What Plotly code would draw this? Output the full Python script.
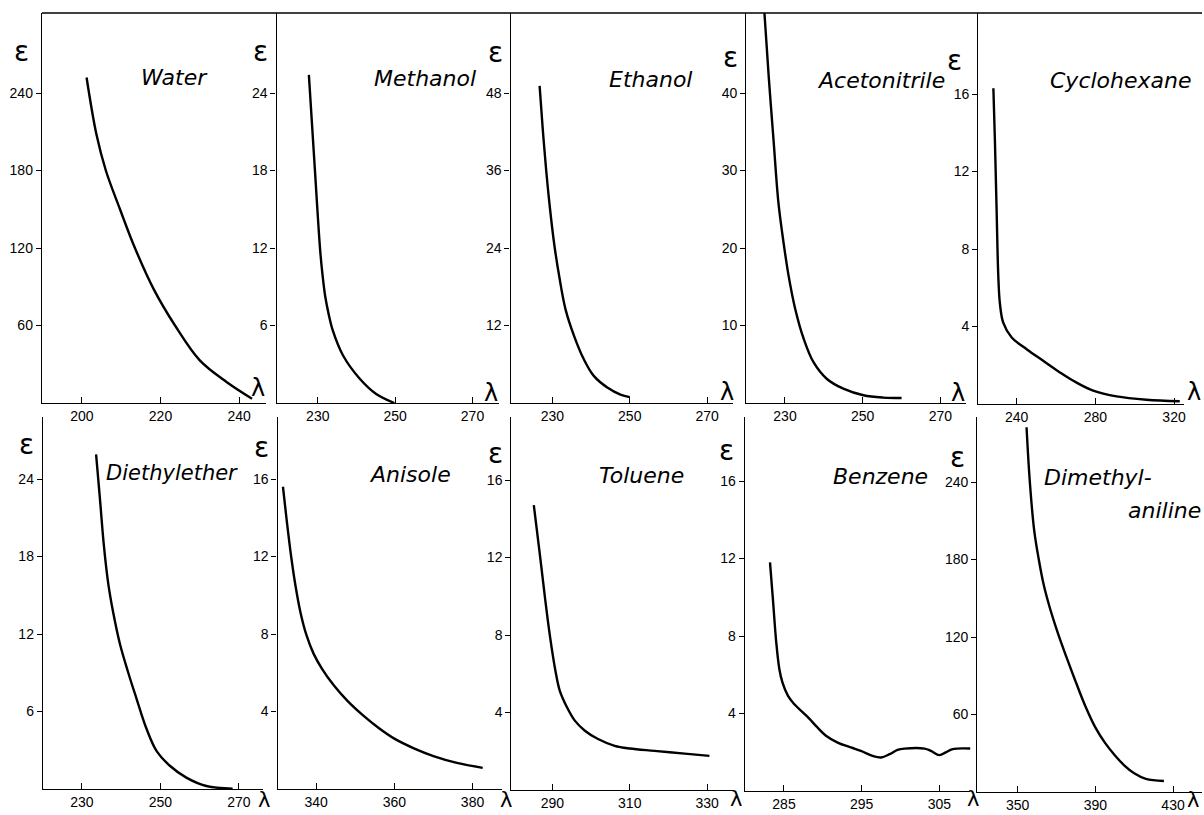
import plotly.graph_objects as go

# ---------------- data ----------------
solvent_labels = ["Water", "Methanol", "Ethanol", "Acetonitrile", "Cyclohexane",
                  "Diethylether", "Anisole", "Toluene", "Benzene", "Dimethyl-", "aniline"]

water_wl = [201.2, 203.7, 206.1, 209.7, 213.5, 218.3, 223.7, 230.0, 236.8, 243.3]
water_eps = [252, 208, 180, 150, 120, 88, 60, 33, 16.3, 3.3]

methanol_wl = [227.7, 229.1, 230.6, 231.2, 231.9, 232.8, 233.9, 236.5, 240.8, 245.1, 249.8]
methanol_eps = [25.4, 18.8, 11.9, 10.0, 8.3, 6.9, 5.6, 3.7, 1.9, 0.7, 0.0]

ethanol_wl = [226.7, 227.5, 228.4, 229.4, 230.5, 231.8, 233.4, 235.6, 238.1, 240.7, 244.2, 247.6, 250.0]
ethanol_eps = [49.1, 42.5, 36.0, 30.0, 24.5, 19.5, 14.5, 10.4, 6.8, 4.2, 2.4, 1.3, 0.9]

acn_wl = [224.7, 225.8, 227.1, 228.3, 229.6, 230.9, 232.6, 234.8, 237.3, 240.8, 245.0, 250.2, 255.3, 260.0]
acn_eps = [50.4, 42.2, 33.6, 25.9, 20.8, 16.5, 12.2, 8.3, 5.3, 3.1, 1.85, 1.0, 0.7, 0.64]

cyc_wl = [228.2, 229.0, 229.8, 230.7, 231.5, 233.2, 237.5, 245.1, 253.5, 262.0, 268.8, 278.9, 290.8, 306.0, 322.9]
cyc_eps = [16.3, 13.5, 10.2, 6.6, 5.2, 4.2, 3.43, 2.83, 2.23, 1.63, 1.20, 0.69, 0.39, 0.22, 0.14]

ether_wl = [233.6, 234.6, 235.6, 236.7, 238.0, 239.7, 241.8, 243.9, 246.4, 249.0, 252.4, 256.6, 261.7, 268.4]
ether_eps = [25.9, 22.4, 18.8, 15.9, 13.6, 11.2, 9.0, 7.0, 4.7, 2.95, 1.8, 0.88, 0.23, 0.03]

anisole_wl = [331.5, 332.5, 333.6, 334.7, 336.0, 337.5, 339.3, 341.5, 344.5, 348.0, 352.0, 356.0,
              360.0, 365.0, 370.0, 376.0, 382.6]
anisole_eps = [15.6, 13.8, 12.0, 10.5, 9.1, 7.95, 7.0, 6.2, 5.35, 4.55, 3.8, 3.15,
               2.6, 2.1, 1.7, 1.35, 1.09]

toluene_wl = [285.2, 286.8, 288.1, 289.4, 290.7, 291.9, 293.7, 295.8, 298.4, 301.8, 306.1,
              310.0, 316.4, 324.2, 330.6]
toluene_eps = [14.7, 12.1, 9.9, 7.9, 6.25, 5.13, 4.30, 3.58, 3.06, 2.63, 2.28,
               2.14, 2.02, 1.88, 1.76]

benzene_wl = [283.2, 283.6, 284.0, 284.4, 284.8, 285.5, 286.3, 288.1, 289.3, 290.4, 291.9, 293.6,
              294.9, 296.4, 297.5, 298.6, 299.6, 300.5, 303.1, 303.9, 305.0, 305.8, 306.7, 309.0]
benzene_eps = [11.8, 9.76, 7.69, 6.30, 5.61, 4.92, 4.49, 3.80, 3.28, 2.85, 2.50, 2.25,
               2.07, 1.81, 1.73, 1.90, 2.12, 2.19, 2.19, 2.07, 1.85, 1.99, 2.16, 2.19]

dma_wl = [354.6, 356.3, 358.5, 360.9, 363.5, 366.5, 370.5, 375.0, 380.0, 385.0, 390.0, 395.0,
          400.0, 405.0, 410.0, 416.0, 425.3]
dma_eps = [282.4, 240, 203, 180, 160, 143, 124, 105, 85, 66, 50, 38,
           28.5, 20.5, 14.5, 10.2, 8.5]

x_tickvals = [[200, 220, 240], [230, 250, 270], [230, 250, 270], [230, 250, 270], [240, 280, 320],
              [230, 250, 270], [340, 360, 380], [290, 310, 330], [285, 295, 305], [350, 390, 430]]
y_tickvals = [[60, 120, 180, 240], [6, 12, 18, 24], [12, 24, 36, 48], [10, 20, 30, 40], [4, 8, 12, 16],
              [6, 12, 18, 24], [4, 8, 12, 16], [4, 8, 12, 16], [4, 8, 12, 16], [60, 120, 180, 240]]

series = [(water_wl, water_eps), (methanol_wl, methanol_eps), (ethanol_wl, ethanol_eps),
          (acn_wl, acn_eps), (cyc_wl, cyc_eps), (ether_wl, ether_eps), (anisole_wl, anisole_eps),
          (toluene_wl, toluene_eps), (benzene_wl, benzene_eps), (dma_wl, dma_eps)]

# ---------------- layout geometry (pixels) ----------------
W, H = 1204, 815
# left, right, top, bottom, (tick a, px a), (tick b, px b)
geom = [
    (42, 266, 13, 403, (200, 82.0), (240, 239.5)),
    (277, 500, 13, 403, (230, 318.3), (270, 473.3)),
    (511.5, 734, 13, 403, (230, 553.3), (270, 708.3)),
    (747.5, 968, 13, 403, (230, 786.3), (270, 942.0)),
    (980, 1186, 13, 404, (240, 1018.3), (320, 1176.0)),
    (43, 263, 417, 789, (250, 160.7), (270, 239.3)),
    (278, 503, 417, 789, (340, 316.7), (380, 473.3)),
    (512.3, 735, 417, 790, (290, 553.3), (330, 708.3)),
    (746, 972, 417, 791, (285, 785.3), (305, 941.0)),
    (979, 1204, 417, 792, (350, 1019.3), (430, 1175.0)),
]
TICK_PX = 77.5  # pixels per y tick step

FONT = "Liberation Sans, Arial, sans-serif"
fig = go.Figure()
layout = dict(width=W, height=H, margin=dict(l=0, r=0, t=0, b=0), autosize=False,
              paper_bgcolor="white", plot_bgcolor="white", showlegend=False,
              font=dict(family=FONT, color="black"))

for i, (g, (wl, ep)) in enumerate(zip(geom, series)):
    L, R, T, B, (ta, pa), (tb, pb) = g
    k = (tb - ta) / (pb - pa)
    xr = [ta - (pa - L) * k, ta + (R - pa) * k]
    step = y_tickvals[i][1] - y_tickvals[i][0]
    yr = [0, (B - T) / TICK_PX * step]
    n = "" if i == 0 else str(i + 1)
    layout["xaxis" + n] = dict(domain=[L / W, R / W], range=xr, anchor="y" + n,
                               showgrid=False, zeroline=False, showline=True,
                               linecolor="black", linewidth=1.4,
                               ticks="inside", ticklen=6, tickwidth=1.3, tickcolor="black",
                               tickvals=x_tickvals[i], tickfont=dict(size=14, family=FONT),
                               fixedrange=True)
    layout["yaxis" + n] = dict(domain=[1 - B / H, 1 - T / H], range=yr, anchor="x" + n,
                               showgrid=False, zeroline=False, showline=True,
                               linecolor="black", linewidth=1.4,
                               ticks="outside", ticklen=5, tickwidth=1.3, tickcolor="black",
                               tickvals=y_tickvals[i], tickfont=dict(size=14, family=FONT),
                               fixedrange=True)
    fig.add_trace(go.Scatter(x=wl, y=ep, mode="lines", xaxis="x" + n, yaxis="y" + n,
                             line=dict(color="black", width=2.4, shape="spline", smoothing=1.0),
                             hoverinfo="skip"))

fig.update_layout(**layout)

# top frame line of the upper row
fig.add_shape(type="line", xref="paper", yref="paper", x0=42 / W, x1=1.0,
              y0=1 - 13 / H, y1=1 - 13 / H, line=dict(color="black", width=1.4))

# annotations: epsilon, lambda and solvent names
eps_pos = [(22, 52), (261, 52), (496, 53), (732, 57), (956, 60),
           (27, 445), (262, 447), (496, 453), (728, 450), (959, 457)]
lam_pos = [(258, 388), (492, 393), (728, 392), (960, 393), (1196, 392),
           (264, 800), (507, 800), (737, 799), (975, 799), (1195, 800)]
name_pos = [(175, 77), (426, 78), (652, 80), (882, 81), (1123, 81),
            (172, 473), (411, 474), (643, 475), (882, 477), (1100, 478), (1128, 510)]

for (ex, ey) in eps_pos:
    fig.add_annotation(x=ex / W, y=1 - ey / H, xref="paper", yref="paper", text="ε",
                       showarrow=False, font=dict(size=28, family="DejaVu Sans", color="black"),
                       xanchor="center", yanchor="middle")
for j, (lx, ly) in enumerate(lam_pos):
    fig.add_annotation(x=lx / W, y=1 - ly / H, xref="paper", yref="paper", text="λ",
                       showarrow=False,
                       font=dict(size=24 if j < 5 else 21, family="DejaVu Sans", color="black"),
                       xanchor="center", yanchor="middle")
for i, (nx, ny) in enumerate(name_pos):
    fig.add_annotation(x=nx / W, y=1 - ny / H, xref="paper", yref="paper",
                       text="<i>" + solvent_labels[i] + "</i>",
                       showarrow=False,
                       font=dict(size=21 if i == 5 else 22, family="DejaVu Sans", color="black"),
                       xanchor="left" if i == 10 else "center", yanchor="middle")

fig.write_html("out.html", config={"displayModeBar": False},
               post_script="document.body.style.margin='0';document.body.style.overflow='hidden';")
